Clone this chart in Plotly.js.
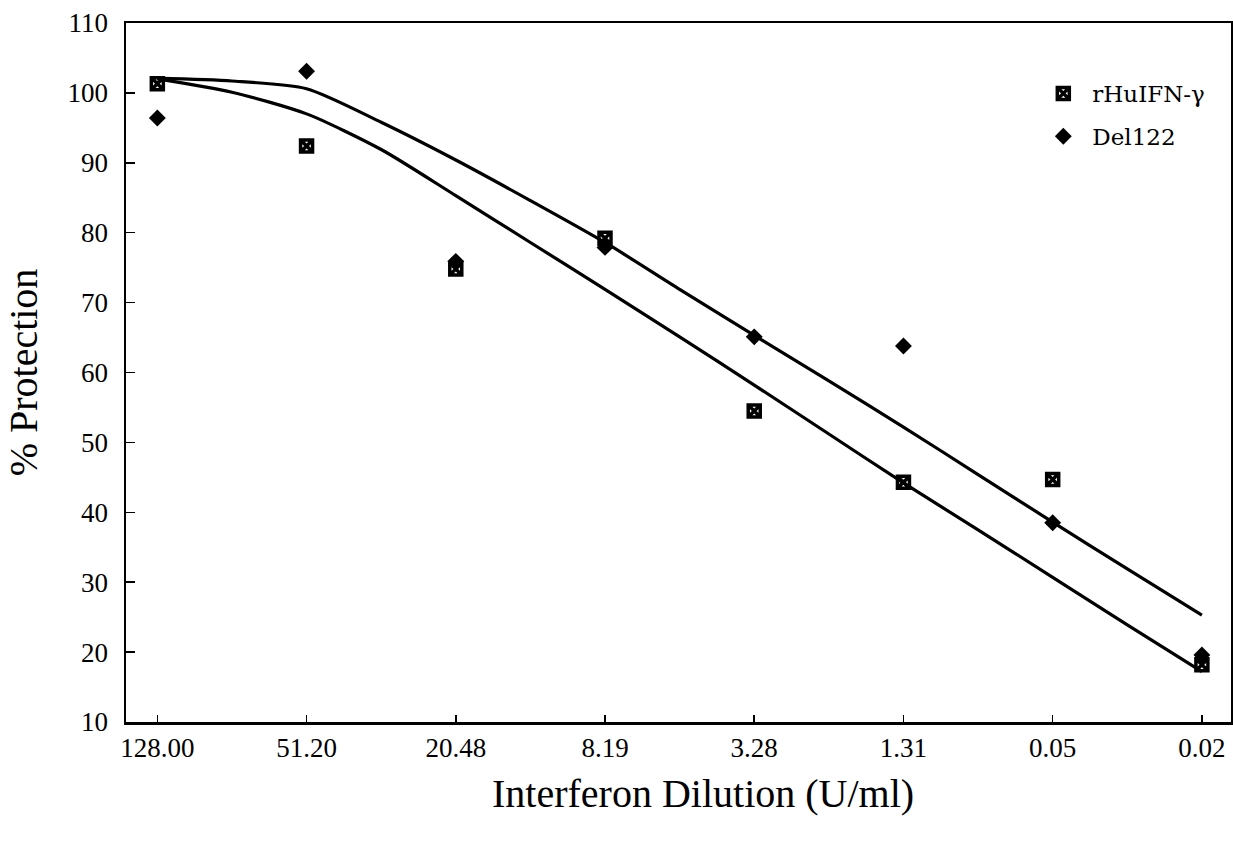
<!DOCTYPE html>
<html>
<head>
<meta charset="utf-8">
<script src="https://cdn.plot.ly/plotly-3.0.1.min.js"></script>
<style>html,body{margin:0;padding:0;background:#fff;}#chart{width:1233px;height:842px;}</style>
</head>
<body>
<div id="chart"></div>
<script>
// Tick labels (categorical dilutions, U/ml)
var dilutionLabels = ["128.00", "51.20", "20.48", "8.19", "3.28", "1.31", "0.05", "0.02"];
var dilutionIndex = [0, 1, 2, 3, 4, 5, 6, 7];

// Measured % protection
var rHuIFN = [101.3, 92.4, 74.8, 79.2, 54.5, 44.3, 44.7, 18.2];
var del122 = [96.4, 103.1, 75.9, 77.9, 65.1, 63.8, 38.5, 19.6];

// Fitted curves, read at half-step positions
var fitIndex = [0, 0.5, 1, 1.5, 2, 2.5, 3, 3.5, 4, 4.5, 5, 5.5, 6, 6.5, 7];
var fitDel122 = [102.1, 101.7, 100.6, 95.8, 90.4, 84.6, 78.6, 71.9, 65.3, 58.8, 52.2, 45.4, 38.6, 31.9, 25.3];
var fitRHuIFN = [102.0, 100.1, 97.0, 91.9, 85.3, 78.6, 71.9, 65.1, 58.2, 51.2, 44.2, 37.5, 30.7, 23.9, 17.2];

var yTicks = [10, 20, 30, 40, 50, 60, 70, 80, 90, 100, 110];

var serif = "Liberation Serif, Times New Roman, serif";

var traces = [
  {x: fitIndex, y: fitDel122, mode: "lines", line: {color: "#000", width: 3.2, shape: "spline", smoothing: 0.7}, showlegend: false, hoverinfo: "skip"},
  {x: fitIndex, y: fitRHuIFN, mode: "lines", line: {color: "#000", width: 3.2, shape: "spline", smoothing: 0.7}, showlegend: false, hoverinfo: "skip"},
  {x: dilutionIndex, y: rHuIFN, mode: "markers", name: "rHuIFN-γ", legendgroup: "a",
   marker: {symbol: "square-x-open", size: 12, color: "#000", line: {color: "#000", width: 3.5}}},
  {x: dilutionIndex, y: del122, mode: "markers", name: "Del122", legendgroup: "b",
   marker: {symbol: "diamond", size: 13, color: "#000", line: {width: 0}}}
];

var layout = {
  width: 1233, height: 842,
  paper_bgcolor: "#fff", plot_bgcolor: "#fff",
  margin: {l: 126, r: 2, t: 23, b: 120},
  font: {family: serif, color: "#000"},
  showlegend: true,
  legend: {x: 0.822, y: 0.93, xanchor: "left", yanchor: "top", bgcolor: "rgba(0,0,0,0)",
           font: {family: "DejaVu Serif, serif", size: 23, color: "#000"},
           traceorder: "grouped", tracegroupgap: 10, itemwidth: 48},
  xaxis: {
    range: [-0.21, 7.195], tickmode: "array", tickvals: dilutionIndex, ticktext: dilutionLabels,
    showgrid: false, zeroline: false, showline: true, linecolor: "#000", linewidth: 2.5, mirror: true,
    ticks: "inside", ticklen: 7, tickwidth: 1.5, tickcolor: "#000",
    tickfont: {family: serif, size: 27, color: "#000"}, ticklabelstandoff: 0
  },
  yaxis: {
    range: [10, 110], tickmode: "array", tickvals: yTicks,
    showgrid: false, zeroline: false, showline: true, linecolor: "#000", linewidth: 2.5, mirror: true,
    ticks: "inside", ticklen: 9, tickwidth: 1.5, tickcolor: "#000",
    tickfont: {family: serif, size: 27, color: "#000"}, ticklabelstandoff: 10,
    title: {text: "% Protection", font: {family: serif, size: 40, color: "#000"}, standoff: 18}
  },
  annotations: [
    {text: "Interferon Dilution (U/ml)", xref: "paper", yref: "paper", x: 0.522, y: -0.103,
     xanchor: "center", yanchor: "middle", showarrow: false,
     font: {family: serif, size: 40, color: "#000"}}
  ]
};

Plotly.newPlot("chart", traces, layout, {displayModeBar: false, staticPlot: true});
</script>
</body>
</html>
